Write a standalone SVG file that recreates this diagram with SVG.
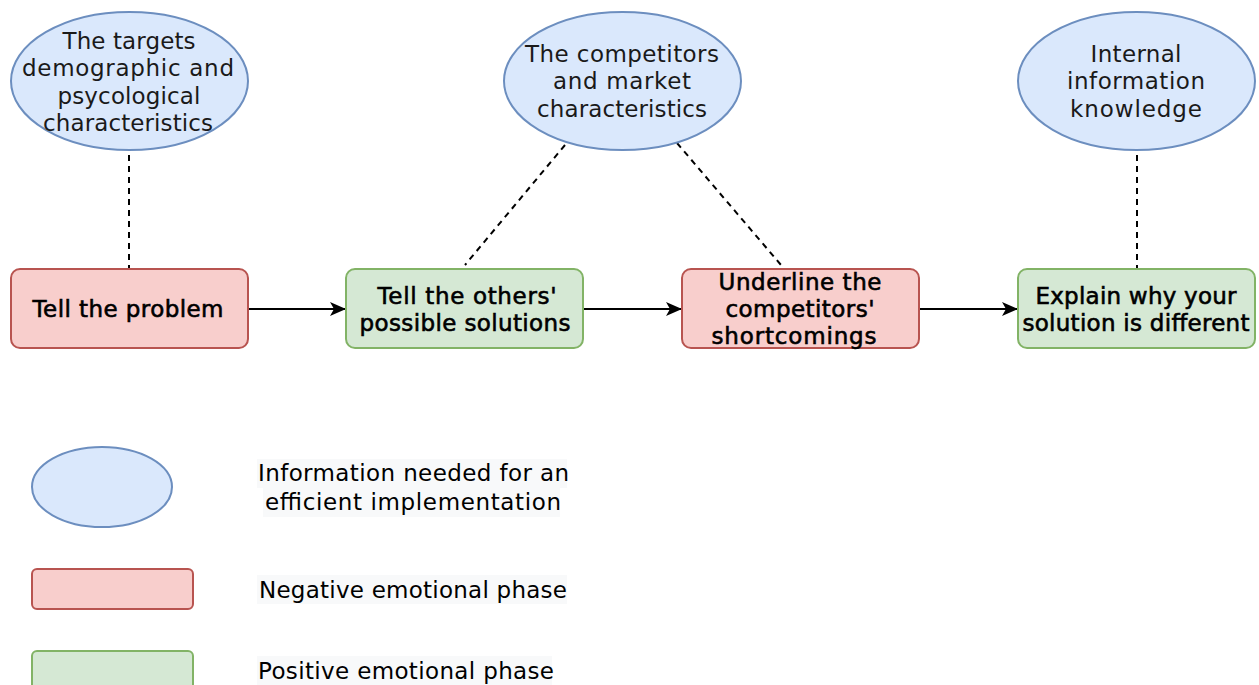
<svg xmlns="http://www.w3.org/2000/svg" width="1259" height="685" viewBox="0 0 1259 685">
<style>
.info{fill:#dae8fc;stroke:#6c8ebf;stroke-width:2}
.neg{fill:#f8cecc;stroke:#b85450;stroke-width:2}
.pos{fill:#d5e8d4;stroke:#82b366;stroke-width:2}
.t{font-family:"DejaVu Sans","Noto Sans",sans-serif;font-size:23px;fill:#1a1a1a;text-anchor:middle}
.b{font-family:"DejaVu Sans","Noto Sans",sans-serif;font-size:23px;fill:#000;stroke:#000;stroke-width:0.6;text-anchor:middle}
.lg{font-family:"DejaVu Sans","Noto Sans",sans-serif;font-size:23px;fill:#000}
.dash{stroke:#000;stroke-width:2;stroke-dasharray:6 5;fill:none}
.flow{stroke:#000;stroke-width:2;fill:none;marker-end:url(#arr)}
.lbg{fill:#f8f9fa}
</style>
<defs>
<marker id="arr" viewBox="0 0 16 14" refX="15" refY="7" markerWidth="16" markerHeight="14" markerUnits="userSpaceOnUse" orient="auto">
<path d="M0,0 L16,7 L0,14 L4,7 Z" fill="#000"/>
</marker>
</defs>
<rect width="1259" height="685" fill="#fff"/>

<g id="connectors">
<line class="dash" x1="129" y1="155" x2="129" y2="268"/>
<line class="dash" x1="565" y1="145" x2="465" y2="265"/>
<line class="dash" x1="677" y1="143" x2="781" y2="265"/>
<line class="dash" x1="1137" y1="155" x2="1137" y2="268"/>
<line class="flow" x1="248" y1="309" x2="345" y2="309"/>
<line class="flow" x1="583" y1="309" x2="681" y2="309"/>
<line class="flow" x1="919" y1="309" x2="1017" y2="309"/>
</g>

<g id="info-targets">
<ellipse class="info" cx="129.5" cy="81" rx="118.5" ry="69"/>
<text class="t"><tspan x="129" y="49" textLength="133">The targets</tspan><tspan x="128" y="76" textLength="212">demographic and</tspan><tspan x="129" y="104" textLength="143">psycological</tspan><tspan x="128" y="131" textLength="170">characteristics</tspan></text>
</g>
<g id="info-competitors">
<ellipse class="info" cx="622.5" cy="81" rx="118.5" ry="69"/>
<text class="t"><tspan x="622" y="62" textLength="194">The competitors</tspan><tspan x="622" y="89" textLength="138">and market</tspan><tspan x="622" y="117" textLength="170">characteristics</tspan></text>
</g>
<g id="info-internal">
<ellipse class="info" cx="1136.5" cy="81" rx="118.5" ry="69"/>
<text class="t"><tspan x="1136" y="62" textLength="91">Internal</tspan><tspan x="1136" y="89" textLength="138">information</tspan><tspan x="1136" y="117" textLength="132">knowledge</tspan></text>
</g>

<g id="step-problem">
<rect class="neg" x="11" y="269" width="237" height="79" rx="9"/>
<text class="b"><tspan x="128" y="317" textLength="191">Tell the problem</tspan></text>
</g>
<g id="step-others">
<rect class="pos" x="346" y="269" width="237" height="79" rx="9"/>
<text class="b"><tspan x="467" y="304" textLength="179">Tell the others'</tspan><tspan x="465" y="331" textLength="211">possible solutions</tspan></text>
</g>
<g id="step-underline">
<rect class="neg" x="682" y="269" width="237" height="79" rx="9"/>
<text class="b"><tspan x="800" y="290" textLength="163">Underline the</tspan><tspan x="800" y="317" textLength="149">competitors'</tspan><tspan x="794" y="344" textLength="165">shortcomings</tspan></text>
</g>
<g id="step-explain">
<rect class="pos" x="1018" y="269" width="237" height="79" rx="9"/>
<text class="b"><tspan x="1136" y="304" textLength="201">Explain why your</tspan><tspan x="1136" y="331" textLength="227">solution is different</tspan></text>
</g>

<g id="legend-info">
<ellipse class="info" cx="102" cy="487" rx="70" ry="40"/>
<rect class="lbg" x="257" y="459" width="310" height="29"/>
<rect class="lbg" x="263" y="488" width="297" height="29"/>
<text class="lg"><tspan x="258" y="481" textLength="311">Information needed for an</tspan><tspan x="265" y="510" textLength="296">efficient implementation</tspan></text>
</g>
<g id="legend-negative">
<rect class="neg" x="32" y="569" width="161" height="40" rx="5"/>
<rect class="lbg" x="257" y="575" width="310" height="29"/>
<text class="lg"><tspan x="259" y="598" textLength="308">Negative emotional phase</tspan></text>
</g>
<g id="legend-positive">
<rect class="pos" x="32" y="651" width="161" height="50" rx="5"/>
<rect class="lbg" x="257" y="656" width="295" height="29"/>
<text class="lg"><tspan x="258" y="679" textLength="296">Positive emotional phase</tspan></text>
</g>
</svg>
